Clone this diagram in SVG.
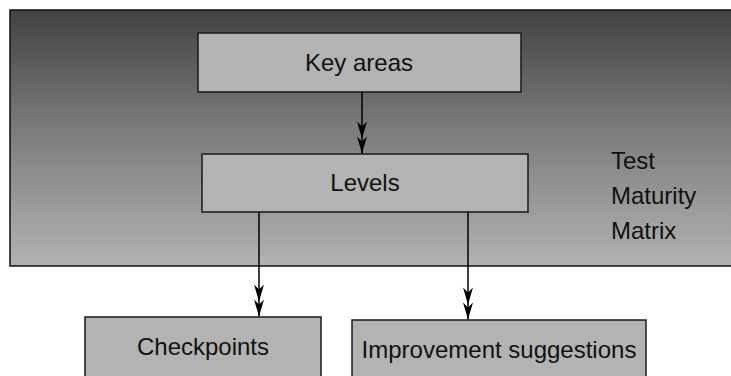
<svg xmlns="http://www.w3.org/2000/svg" width="731" height="376" viewBox="0 0 731 376">
  <style>
    .box { fill: #b3b3b3; stroke: #1a1a1a; stroke-width: 1.5; }
    .lbl { font-family: "Liberation Sans", Arial, sans-serif; font-size: 24px; fill: #111; }
    .conn { stroke: #000; stroke-width: 1.5; fill: none; marker-end: url(#dbl); }
  </style>
  <defs>
    <linearGradient id="bg" x1="0" y1="0" x2="0" y2="1">
      <stop offset="0" stop-color="#424242"/>
      <stop offset="0.45" stop-color="#7a7a7a"/>
      <stop offset="1" stop-color="#b2b2b2"/>
    </linearGradient>
    <marker id="dbl" markerUnits="userSpaceOnUse" viewBox="-34 -6 35 12" refX="0" refY="0" markerWidth="35" markerHeight="12" orient="auto" overflow="visible">
      <path d="M0,0 L-17,-5 L-12,0 L-17,5 Z M-15,0 L-32,-5 L-27,0 L-32,5 Z" fill="#000"/>
    </marker>
  </defs>
  <rect width="731" height="376" fill="#fff"/>
  <g id="matrix">
    <rect x="10" y="10" width="730" height="256" fill="url(#bg)" stroke="#111" stroke-width="1.5"/>
    <text class="lbl" x="611" y="169">Test</text>
    <text class="lbl" x="611" y="204">Maturity</text>
    <text class="lbl" x="611" y="239">Matrix</text>
  </g>
  <g id="key-areas">
    <rect class="box" x="198" y="33" width="323" height="59"/>
    <text class="lbl" x="359" y="71" text-anchor="middle">Key areas</text>
  </g>
  <g id="levels">
    <rect class="box" x="202" y="154" width="326" height="58"/>
    <text class="lbl" x="365" y="191" text-anchor="middle">Levels</text>
  </g>
  <g id="checkpoints">
    <rect class="box" x="85" y="317" width="236" height="70"/>
    <text class="lbl" x="203" y="355" text-anchor="middle">Checkpoints</text>
  </g>
  <g id="improvement">
    <rect class="box" x="352" y="320" width="294" height="70"/>
    <text class="lbl" x="499" y="358" text-anchor="middle">Improvement suggestions</text>
  </g>
  <g id="connectors">
    <line class="conn" x1="362" y1="92" x2="362" y2="153.5"/>
    <line class="conn" x1="259" y1="212" x2="259" y2="316.5"/>
    <line class="conn" x1="468" y1="212" x2="468" y2="319.5"/>
  </g>
</svg>
